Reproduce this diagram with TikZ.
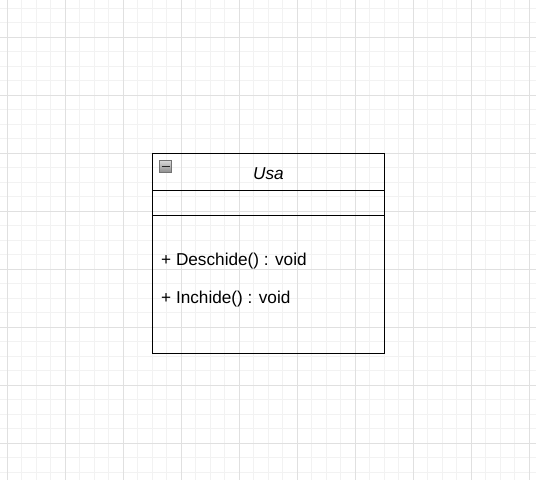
\documentclass[tikz,border=0pt]{standalone}
\usepackage{fontspec}
\setmainfont{Liberation Sans}
\begin{document}
\begin{tikzpicture}[x=1pt,y=-1pt,
  minorline/.style={draw=black!5, line width=0.9pt},
  majorline/.style={draw=black!12, line width=0.9pt},
  classline/.style={draw=black, line width=1.5pt},
  member/.style={anchor=west, inner sep=0pt, font=\fontsize{17.2}{20}\selectfont}]

  \useasboundingbox (0,0) rectangle (536,480);

  % Background grid
  \foreach \i in {0,...,36} {
    \draw [minorline] ({7+14.5*\i},0) -- ({7+14.5*\i},480);
  }
  \foreach \j in {0,...,32} {
    \draw [minorline] (0,{8+14.5*\j}) -- (536,{8+14.5*\j});
  }
  \foreach \i in {0,...,9} {
    \draw [majorline] ({7+58*\i},0) -- ({7+58*\i},480);
  }
  \foreach \j in {0,...,7} {
    \draw [majorline] (0,{37+58*\j}) -- (536,{37+58*\j});
  }

  \coordinate (NW) at (152.5,153.5);
  \coordinate (SE) at (384.5,353.5);

  % Class box with its compartments
  \draw [classline] (NW) rectangle (SE);
  \draw [classline] (152.5,190.5) -- (384.5,190.5);
  \draw [classline] (152.5,215.5) -- (384.5,215.5);

  % Collapse button
  \draw [draw=black!55, top color=black!15, bottom color=black!45, line width=0.8pt] (159.5,160.5) rectangle (171.5,172.5);
  \draw [black!85, line width=1.6pt] (161.5,166.5) -- (169.5,166.5);

  \node (usa) [font=\fontsize{17.2}{20}\selectfont\itshape] at (268.5,174) {Usa};
  \node (deschide) [member] at (161,261) {+ Deschide() : void};
  \node (inchide) [member] at (161,299) {+ Inchide() : void};

\end{tikzpicture}
\end{document}
